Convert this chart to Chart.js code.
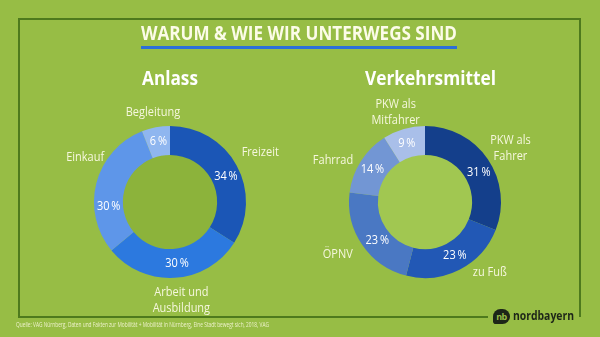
<!DOCTYPE html>
<html lang="de">
<head>
<meta charset="utf-8">
<title>Warum &amp; wie wir unterwegs sind</title>
<script src="https://cdn.jsdelivr.net/npm/chart.js@4"></script>
<style>
  html, body { margin: 0; padding: 0; }
  body {
    width: 600px; height: 337px; position: relative; overflow: hidden;
    background: #97bd45; font-family: "Open Sans", sans-serif;
  }
  canvas { position: absolute; left: 0; top: 0; }
  .rule { position: absolute; background: #4e7a1d; }
  .t { position: absolute; white-space: nowrap; transform-origin: left top; }
  #underline { position: absolute; left: 141px; top: 46px; width: 316px; height: 3px; background: #2b6fd8; }
  #logo-mark {
    position: absolute; left: 493px; top: 309px; width: 17px; height: 15px;
    background: #1d2618; border-radius: 8px 8px 8px 3px;
    color: #97bd45; font: 700 9px "Open Sans", sans-serif; line-height: 15px;
    text-align: center; letter-spacing: -0.5px;
  }
</style>
</head>
<body>
<div class="rule" style="left:18px;top:18px;width:563px;height:2px"></div>
<div class="rule" style="left:18px;top:18px;width:2px;height:300px"></div>
<div class="rule" style="left:18px;top:316px;width:470px;height:2px"></div>
<div class="rule" style="left:579px;top:18px;width:2px;height:299px"></div>
<div id="underline"></div>
<div id="logo-mark">nb</div>
<canvas id="anlass" width="600" height="337"></canvas>
<canvas id="verkehr" width="600" height="337"></canvas>
<script>
// ---- data ----
const anlassLabels = [['Freizeit'], ['Arbeit und', 'Ausbildung'], ['Einkauf'], ['Begleitung']];
const anlassValues = [34, 30, 30, 6];

const verkehrLabels = [['PKW als', 'Fahrer'], ['zu Fuß'], ['ÖPNV'], ['Fahrrad'], ['PKW als', 'Mitfahrer']];
const verkehrValues = [31, 23, 23, 14, 9];

// ---- styling ----
const FONT = '"Open Sans", sans-serif';
const LABEL_COLOR = '#f6f7de';
const anlassColors = ['#1b56b6', '#2c79df', '#5e96e9', '#8fb6ef'];
const verkehrColors = ['#143f8b', '#2258b5', '#4a78c3', '#7296d4', '#a9bfe9'];

// per-label placement tweaks: angle shift (deg) and distance from centre (px)
const anlassLabelShift = [0, -3, 13.5, 0];
const anlassLabelRadius = [103, 99, 96, 91];
const anlassPctShift = [4, -3, -19, 0];
const verkehrLabelShift = [2, -15.5, 3, -8, -2];
const verkehrLabelRadius = [101, 96, 102, 101, 94];
const verkehrPctShift = [5, -2, -5, -1, -1];

function drawCondensed(ctx, lines, x, y, size, weight, color, sx, lh) {
  ctx.save();
  ctx.font = `${weight} ${size}px ${FONT}`;
  ctx.fillStyle = color;
  ctx.textAlign = 'center';
  ctx.textBaseline = 'middle';
  const top = y - (lines.length - 1) * lh / 2;
  lines.forEach((ln, k) => {
    ctx.save();
    ctx.translate(x, top + k * lh);
    ctx.scale(sx, 1);
    ctx.fillText(ln, 0, 0);
    ctx.restore();
  });
  ctx.restore();
}

// fills the doughnut hole and writes percentages and category names
const ringLabels = {
  id: 'ringLabels',
  beforeDatasetsDraw(chart, args, opts) {
    const arc = chart.getDatasetMeta(0).data[0];
    if (!arc) return;
    const ctx = chart.ctx;
    ctx.save();
    ctx.fillStyle = opts.holeColor;
    ctx.beginPath();
    ctx.arc(arc.x, arc.y, arc.innerRadius + 0.5, 0, Math.PI * 2);
    ctx.fill();
    ctx.restore();
  },
  afterDatasetsDraw(chart, args, opts) {
    const ctx = chart.ctx;
    const values = chart.data.datasets[0].data;
    const names = chart.data.labels;
    chart.getDatasetMeta(0).data.forEach((arc, i) => {
      const p = arc.getProps(['x', 'y', 'startAngle', 'endAngle', 'innerRadius', 'outerRadius'], true);
      const mid = (p.startAngle + p.endAngle) / 2;
      const pa = mid + (opts.pctShift[i] || 0) * Math.PI / 180;
      const pr = (p.innerRadius + p.outerRadius) / 2;
      drawCondensed(ctx, [values[i] + '\u2009%'], p.x + Math.cos(pa) * pr, p.y + Math.sin(pa) * pr,
        12.5, 400, '#ffffff', 0.88, 16);
      const la = mid + (opts.labelShift[i] || 0) * Math.PI / 180;
      const lr = opts.labelRadius[i];
      drawCondensed(ctx, names[i], p.x + Math.cos(la) * lr, p.y + Math.sin(la) * lr,
        12.5, 400, LABEL_COLOR, 0.88, 16);
    });
  }
};

function makeDonut(id, labels, values, colors, padding, labelOpts) {
  return new Chart(document.getElementById(id), {
    type: 'doughnut',
    data: {
      labels: labels,
      datasets: [{ data: values, backgroundColor: colors, borderWidth: 0, hoverOffset: 0, offset: 0 }]
    },
    options: {
      responsive: false,
      animation: false,
      events: [],
      cutout: '62%',
      layout: { padding: padding },
      plugins: {
        legend: { display: false },
        tooltip: { enabled: false },
        ringLabels: labelOpts
      }
    },
    plugins: [ringLabels]
  });
}

makeDonut('anlass', anlassLabels, anlassValues, anlassColors,
  { left: 94, right: 354, top: 126, bottom: 59 },
  { holeColor: '#8cb33b', labelShift: anlassLabelShift, labelRadius: anlassLabelRadius, pctShift: anlassPctShift });

makeDonut('verkehr', verkehrLabels, verkehrValues, verkehrColors,
  { left: 349, right: 99, top: 126, bottom: 59 },
  { holeColor: '#a1c751', labelShift: verkehrLabelShift, labelRadius: verkehrLabelRadius, pctShift: verkehrPctShift });

// ---- headings, source line and brand text ----
function addText(str, o) {
  const el = document.createElement('div');
  el.className = 't';
  el.textContent = str;
  el.style.font = `${o.weight || 400} ${o.size}px ${FONT}`;
  el.style.lineHeight = o.size + 'px';
  el.style.color = o.color;
  document.body.appendChild(el);
  const w = el.getBoundingClientRect().width;
  const sx = o.width ? o.width / w : 1;
  const left = o.align === 'center' ? o.x - (w * sx) / 2 : o.x;
  el.style.left = left + 'px';
  el.style.top = (o.baseline - 0.888 * o.size) + 'px';
  el.style.transform = `scaleX(${sx})`;
}

addText('WARUM & WIE WIR UNTERWEGS SIND', { x: 299, align: 'center', baseline: 41, size: 19, weight: 700, color: '#fcfce8', width: 316 });
addText('Anlass', { x: 170, align: 'center', baseline: 86, size: 19, weight: 700, color: '#ffffff', width: 56 });
addText('Verkehrsmittel', { x: 430.5, align: 'center', baseline: 86, size: 19, weight: 700, color: '#ffffff', width: 131 });
addText('Quelle: VAG Nürnberg, Daten und Fakten zur Mobilität + Mobilität in Nürnberg, Eine Stadt bewegt sich, 2018, VAG',
  { x: 16, baseline: 328, size: 6.5, weight: 400, color: '#eef1cc', width: 253 });
addText('nordbayern', { x: 513, baseline: 320, size: 11.5, weight: 700, color: '#1d2618', width: 61 });
</script>
</body>
</html>
